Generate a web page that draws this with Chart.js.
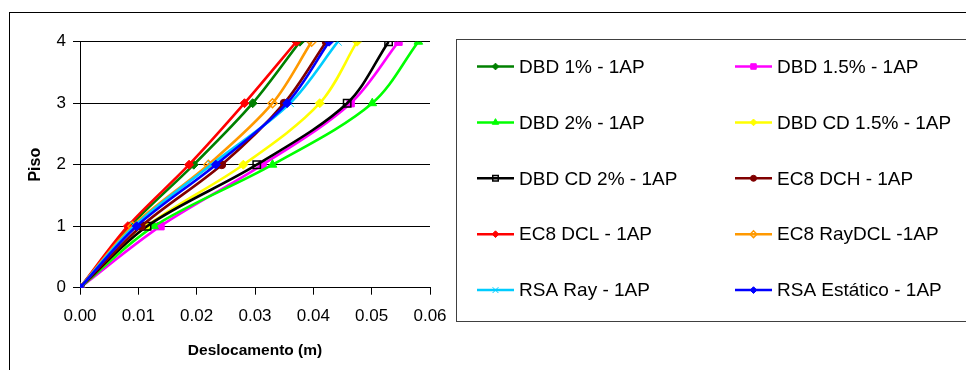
<!DOCTYPE html>
<html>
<head>
<meta charset="utf-8">
<script src="https://cdn.jsdelivr.net/npm/chart.js@4/dist/chart.umd.min.js"></script>
<style>
  html, body { margin: 0; padding: 0; background: #ffffff; }
  #wrap { width: 966px; height: 370px; position: relative; }
</style>
</head>
<body>
<div id="wrap"><canvas id="c" width="966" height="370"></canvas></div>
<script>
// Storey levels (Piso) and lateral displacement per storey (m)
const floors = [0, 1, 2, 3, 4];
const xTicks = [0, 0.01, 0.02, 0.03, 0.04, 0.05, 0.06];

const seriesNames = [
  'DBD 1% - 1AP', 'DBD 1.5% - 1AP',
  'DBD 2% - 1AP', 'DBD CD 1.5% - 1AP',
  'DBD CD 2% - 1AP', 'EC8 DCH - 1AP',
  'EC8 DCL - 1AP', 'EC8 RayDCL -1AP',
  'RSA Ray - 1AP', 'RSA Estático - 1AP'
];

const dbd1      = [0, 0.0086, 0.0195, 0.0296, 0.0377];
const dbd15     = [0, 0.0138, 0.0313, 0.0464, 0.0546];
const dbd2      = [0, 0.0127, 0.0330, 0.0501, 0.0580];
const dbdCd15   = [0, 0.0114, 0.0280, 0.0411, 0.0475];
const dbdCd2    = [0, 0.0115, 0.0303, 0.0458, 0.0529];
const ec8Dch    = [0, 0.0105, 0.0243, 0.0350, 0.0422];
const ec8Dcl    = [0, 0.0082, 0.0187, 0.0282, 0.0371];
const ec8RayDcl = [0, 0.0090, 0.0220, 0.0330, 0.0397];
const rsaRay    = [0, 0.0093, 0.0225, 0.0360, 0.0442];
const rsaEst    = [0, 0.0097, 0.0233, 0.0355, 0.0427];

const seriesValues = [dbd1, dbd15, dbd2, dbdCd15, dbdCd2, ec8Dch, ec8Dcl, ec8RayDcl, rsaRay, rsaEst];

// Line colour, marker shape, marker radius, marker fill
const styles = [
  { c: '#008000', p: 'rectRot',  r: 4.5, fill: true },
  { c: '#FF00FF', p: 'rect',     r: 5.2, fill: true },
  { c: '#00FF00', p: 'triangle', r: 5,   fill: true },
  { c: '#FFFF00', p: 'rectRot',  r: 4.5, fill: true },
  { c: '#000000', p: 'rect',     r: 5.2, fill: false },
  { c: '#800000', p: 'circle',   r: 4,   fill: true },
  { c: '#FF0000', p: 'rectRot',  r: 4.5, fill: true },
  { c: '#FF9900', p: 'rectRot',  r: 4.5, fill: false },
  { c: '#00CCFF', p: 'crossRot', r: 5.5, fill: true },
  { c: '#0000FF', p: 'rectRot',  r: 4.5, fill: true }
];

const datasets = seriesValues.map((vals, i) => {
  const s = styles[i];
  return {
    label: seriesNames[i],
    data: vals.map((v, k) => ({ x: v, y: floors[k] })),
    showLine: true,
    borderColor: s.c,
    backgroundColor: s.c,
    borderWidth: 2.6,
    tension: 0.33,
    pointStyle: s.p,
    pointRadius: s.r,
    pointHoverRadius: s.r,
    pointBackgroundColor: s.fill ? s.c : 'rgba(0,0,0,0)',
    pointBorderColor: s.c,
    pointBorderWidth: s.fill ? 1 : 1.5,
    order: seriesValues.length - i   // later series drawn on top
  };
});

const FONT = "'Liberation Sans', Arial, sans-serif";

// White page, outer frame and legend box
const framePlugin = {
  id: 'frame',
  beforeDraw(chart) {
    const ctx = chart.ctx;
    ctx.save();
    ctx.fillStyle = '#ffffff';
    ctx.fillRect(0, 0, chart.width, chart.height);
    ctx.strokeStyle = '#000000';
    ctx.lineWidth = 1;
    ctx.strokeRect(9.5, 12.5, 1000, 400);
    ctx.restore();
  },
  afterDraw(chart) {
    const ctx = chart.ctx;
    ctx.save();
    ctx.strokeStyle = '#404040';
    ctx.lineWidth = 1;
    ctx.strokeRect(456.5, 39.5, 600, 282);
    ctx.font = '19px ' + FONT;
    ctx.textBaseline = 'middle';
    ctx.textAlign = 'left';
    chart.data.datasets.forEach((ds, i) => {
      const col = i % 2, row = Math.floor(i / 2);
      const x0 = col ? 735 : 477;
      const y = 66.5 + row * 55.9;
      ctx.strokeStyle = ds.borderColor;
      ctx.lineWidth = 2.5;
      ctx.beginPath();
      ctx.moveTo(x0, y);
      ctx.lineTo(x0 + 37, y);
      ctx.stroke();
      ctx.fillStyle = ds.pointBackgroundColor;
      ctx.strokeStyle = ds.pointBorderColor;
      ctx.lineWidth = ds.pointBorderWidth;
      if (Chart.helpers && Chart.helpers.drawPoint) {
        Chart.helpers.drawPoint(ctx, {
          pointStyle: ds.pointStyle,
          radius: ds.pointRadius * 0.75,
          rotation: 0,
          borderWidth: ds.pointBorderWidth
        }, x0 + 18.5, y);
      }
      ctx.fillStyle = '#000000';
      ctx.fillText(ds.label, x0 + 42, y + 1);
    });
    ctx.restore();
  }
};

Chart.defaults.color = '#000000';
Chart.defaults.font.family = FONT;

new Chart(document.getElementById('c').getContext('2d'), {
  type: 'scatter',
  data: { datasets },
  options: {
    responsive: false,
    animation: false,
    events: [],
    layout: { padding: { left: 0, top: 41.7, right: 536, bottom: 0 } },
    plugins: { legend: { display: false }, tooltip: { enabled: false } },
    scales: {
      x: {
        type: 'linear',
        min: 0,
        max: 0.06,
        afterBuildTicks(scale) { scale.ticks = xTicks.map(v => ({ value: v })); },
        afterFit(scale) { scale.height = 370 - 287.7; },
        ticks: {
          callback: v => Number(v).toFixed(2),
          font: { size: 17 },
          padding: 11,
          maxRotation: 0,
          autoSkip: false
        },
        grid: {
          drawOnChartArea: false,
          drawTicks: true,
          tickLength: 7,
          color: '#000000',
          lineWidth: 1
        },
        border: { display: true, color: '#000000', width: 1 },
        title: {
          display: true,
          text: 'Deslocamento (m)',
          font: { size: 15.5, weight: 'bold' },
          padding: { top: 0, bottom: 10 }
        }
      },
      y: {
        type: 'linear',
        min: 0,
        max: 4,
        afterBuildTicks(scale) { scale.ticks = floors.map(v => ({ value: v })); },
        afterFit(scale) { scale.width = 80; },
        ticks: {
          font: { size: 17 },
          padding: 7,
          autoSkip: false
        },
        grid: {
          drawOnChartArea: true,
          drawTicks: true,
          tickLength: 7,
          color: '#000000',
          lineWidth: 1
        },
        border: { display: true, color: '#000000', width: 1 },
        title: {
          display: true,
          text: 'Piso',
          font: { size: 16, weight: 'bold' },
          padding: { top: 26, bottom: 0 }
        }
      }
    }
  },
  plugins: [framePlugin]
});
</script>
</body>
</html>
